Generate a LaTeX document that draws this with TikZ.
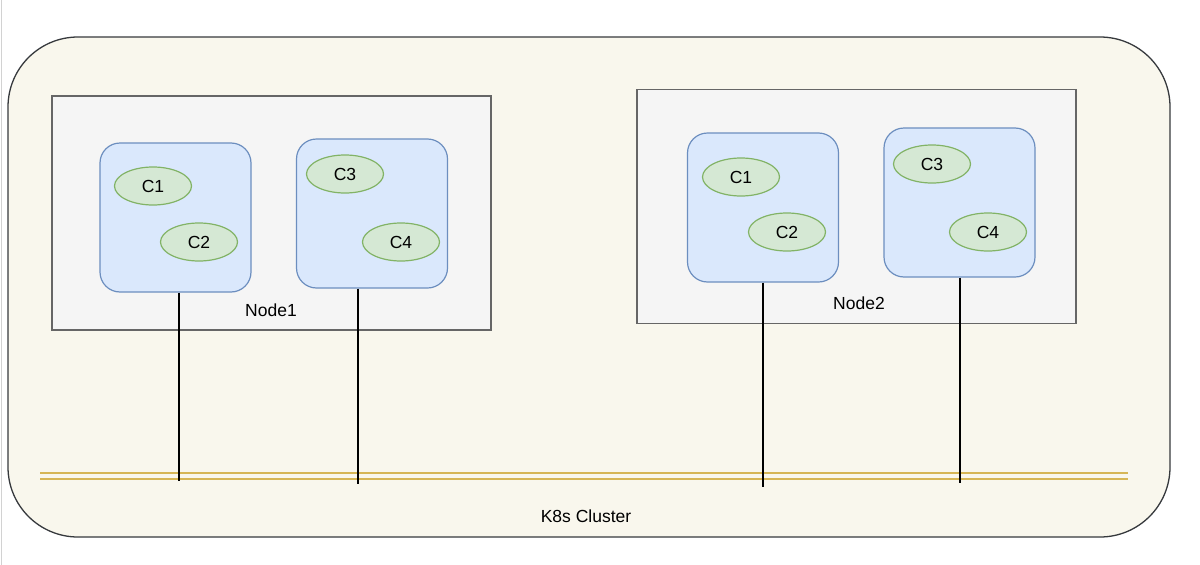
\documentclass[tikz,border=0pt]{standalone}
\usepackage{fontspec}
\setmainfont{Liberation Sans}
\usetikzlibrary{shapes.geometric}
\definecolor{clfill}{HTML}{F9F7ED}
\definecolor{clstroke}{HTML}{36393D}
\definecolor{ndfill}{HTML}{F5F5F5}
\definecolor{ndstroke}{HTML}{666666}
\definecolor{podfill}{HTML}{DAE8FC}
\definecolor{podstroke}{HTML}{6C8EBF}
\definecolor{ctfill}{HTML}{D5E8D4}
\definecolor{ctstroke}{HTML}{82B366}
\definecolor{netc}{HTML}{D6B656}
\tikzset{
  txt/.style={font=\fontsize{17.5}{20}\selectfont},
  nodebox/.style={draw=ndstroke, fill=ndfill, line width=1.2pt, minimum width=439pt, minimum height=234pt, inner sep=0pt},
  podbox/.style={draw=podstroke, fill=podfill, line width=1.2pt, rounded corners=20pt, minimum width=151pt, minimum height=149pt, inner sep=0pt},
  ctr/.style={ellipse, draw=ctstroke, fill=ctfill, line width=1.2pt, minimum width=77pt, minimum height=38pt, inner sep=0pt, txt},
  link/.style={draw=black, line width=1.5pt},
  net/.style={draw=netc, line width=1.3pt},
}
\begin{document}
\begin{tikzpicture}[x=1pt,y=-1pt]
\useasboundingbox (0,0) rectangle (1200,565);
\fill[white] (0,0) rectangle (1200,565);
\draw[gray!35, line width=1pt] (1,0) -- (1,565);
% cluster
\node[draw=clstroke, fill=clfill, line width=1.3pt, rounded corners=70pt, minimum width=1162pt, minimum height=500pt, inner sep=0pt] (cluster) at (589,287) {};
\node[txt] (clabel) at (586,516) {K8s Cluster};
% network
\coordinate (na) at (40,473);
\coordinate (nb) at (1128,473);
\coordinate (nc) at (40,479);
\coordinate (nd) at (1128,479);
\draw[net] (na) -- (nb);
\draw[net] (nc) -- (nd);
% Node1
\node[nodebox] (n1) at (271.5,213) {};
\node[txt] (n1l) at (271,310) {Node1};
\node[podbox] (p1) at (175.5,217.5) {};
\node[podbox] (p2) at (372,213.5) {};
\node[ctr] (c1a) at (153,186) {C1};
\node[ctr] (c2a) at (199,242) {C2};
\node[ctr] (c3a) at (345,174) {C3};
\node[ctr] (c4a) at (401,242) {C4};
% Node2
\node[nodebox] (n2) at (856.5,206.5) {};
\node[txt] (n2l) at (859,303) {Node2};
\node[podbox] (p3) at (763,207.5) {};
\node[podbox] (p4) at (959.5,202.5) {};
\node[ctr] (c1b) at (741,177) {C1};
\node[ctr] (c2b) at (787,232) {C2};
\node[ctr] (c3b) at (932,164) {C3};
\node[ctr] (c4b) at (988,232) {C4};
% links
\coordinate (e1) at (179,481);
\coordinate (e2) at (358,484);
\coordinate (e3) at (763,487);
\coordinate (e4) at (960,483);
\draw[link] (e1 |- p1.south) -- (e1);
\draw[link] (e2 |- p2.south) -- (e2);
\draw[link] (e3 |- p3.south) -- (e3);
\draw[link] (e4 |- p4.south) -- (e4);
\end{tikzpicture}
\end{document}
